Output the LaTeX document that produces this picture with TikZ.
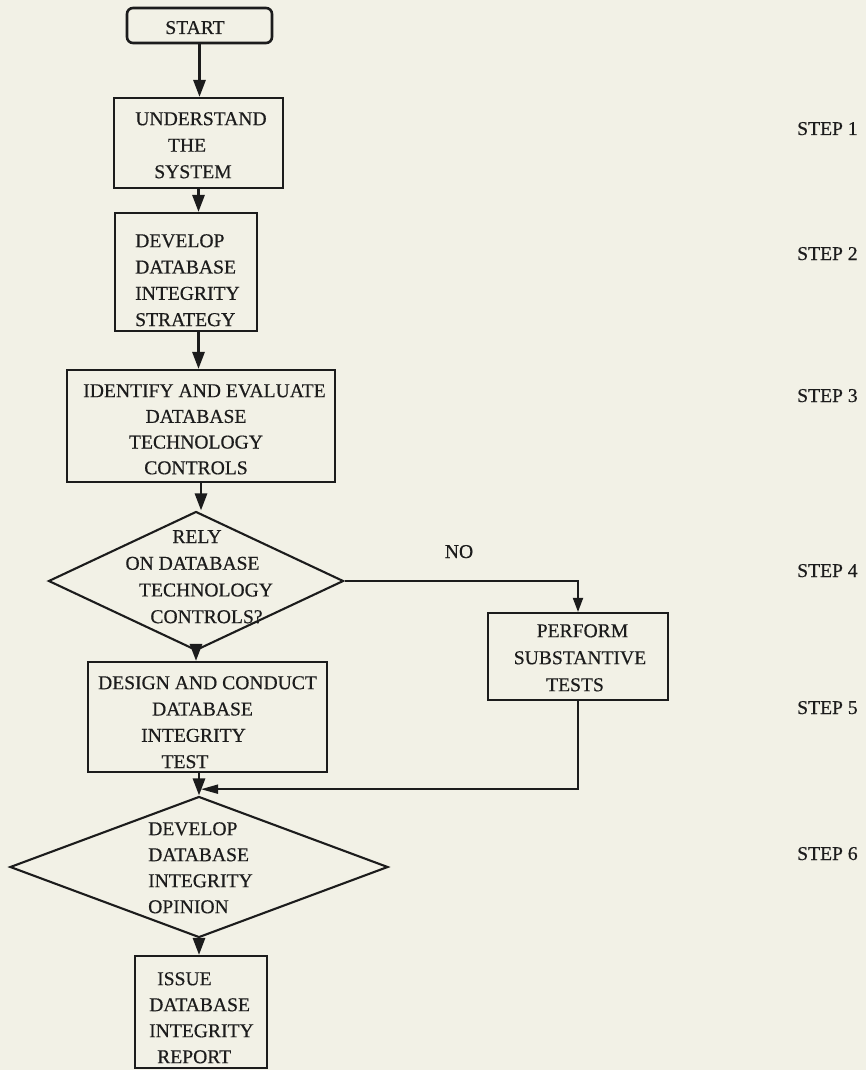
\documentclass[tikz,border=0pt]{standalone}
\usepackage{fontspec}
\setmainfont{Liberation Serif}[FakeBold=0.5]
\usetikzlibrary{arrows.meta,shapes.geometric,calc}
\definecolor{paper}{RGB}{242,241,230}
\definecolor{ink}{RGB}{28,28,28}
\begin{document}
\begin{tikzpicture}[x=1pt,y=-1pt,
  box/.style={draw=ink, line width=2.1pt, inner sep=0pt, rectangle},
  decision/.style={draw=ink, line width=2.1pt, inner sep=0pt, diamond},
  txt/.style={inner sep=0pt, text=ink, font=\fontsize{19.6}{26.3}\selectfont},
  flow/.style={draw=ink, line width=2.8pt, -{Triangle[length=17pt,width=12pt]}},
  side/.style={draw=ink, line width=1.8pt},
]
\fill[paper] (0,0) rectangle (866,1070);
\useasboundingbox (0,0) rectangle (866,1070);

% shapes
\node[box, rounded corners=6pt, line width=2.6pt, minimum width=145pt, minimum height=35pt] (start) at (199.5,25.5) {};
\node[box, minimum width=169pt, minimum height=90pt] (und) at (198.5,143) {};
\node[box, minimum width=142pt, minimum height=118pt] (dev) at (186,272) {};
\node[box, minimum width=268pt, minimum height=112pt] (ident) at (201,426) {};
\node[decision, minimum width=295pt, minimum height=139pt] (d1) at (196,581) {};
\node[box, minimum width=180pt, minimum height=87pt] (perf) at (578,656.5) {};
\node[box, minimum width=239pt, minimum height=110pt] (design) at (207.5,717) {};
\node[decision, minimum width=378pt, minimum height=141pt] (d2) at (199,867) {};
\node[box, minimum width=132pt, minimum height=112pt] (issue) at (201,1012) {};

% texts
\node[txt, anchor=base] (tstart) at (195,34) {START};
\node[txt, align=center, anchor=north, font=\fontsize{19.6}{26.5}\selectfont] (tund) at (198,112)
  {\hspace*{6pt}UNDERSTAND\\\hspace*{-22pt}THE\\\hspace*{-10pt}SYSTEM};
\node[txt, align=left, anchor=north west] (tdev) at (135,234)
  {DEVELOP\\DATABASE\\INTEGRITY\\STRATEGY};
\node[txt, align=center, anchor=north, font=\fontsize{19.6}{25.7}\selectfont] (tident) at (196,384)
  {\hspace*{17pt}IDENTIFY AND EVALUATE\\DATABASE\\TECHNOLOGY\\CONTROLS};
\node[txt, align=center, anchor=north, font=\fontsize{19.6}{26.7}\selectfont] (td1) at (200,530)
  {\hspace*{-6pt}RELY\\\hspace*{-15pt}ON DATABASE\\\hspace*{12pt}TECHNOLOGY\\\hspace*{13pt}CONTROLS?};
\node[txt, anchor=base] (tno) at (459,558) {NO};
\node[txt, align=center, anchor=north, font=\fontsize{19.6}{27}\selectfont] (tperf) at (580,624)
  {\hspace*{5pt}PERFORM\\SUBSTANTIVE\\\hspace*{-10pt}TESTS};
\node[txt, align=center, anchor=north] (tdesign) at (200,676)
  {\hspace*{15pt}DESIGN AND CONDUCT\\\hspace*{5pt}DATABASE\\\hspace*{-13pt}INTEGRITY\\\hspace*{-30pt}TEST};
\node[txt, align=left, anchor=north west, font=\fontsize{19.6}{26}\selectfont] (td2) at (148,822)
  {DEVELOP\\DATABASE\\INTEGRITY\\OPINION};
\node[txt, align=left, anchor=north west, font=\fontsize{19.6}{26}\selectfont] (tissue) at (149,972)
  {\hspace*{8pt}ISSUE\\DATABASE\\INTEGRITY\\\hspace*{8pt}REPORT};

% step labels
\node[txt, anchor=base west] (s1) at (797,135) {STEP 1};
\node[txt, anchor=base west] (s2) at (797,260) {STEP 2};
\node[txt, anchor=base west] (s3) at (797,402) {STEP 3};
\node[txt, anchor=base west] (s4) at (797,577) {STEP 4};
\node[txt, anchor=base west] (s5) at (797,714) {STEP 5};
\node[txt, anchor=base west] (s6) at (797,860) {STEP 6};

% connectors
\draw[flow] (start.south) -- (start.south |- und.north);
\draw[flow] (und.south) -- (und.south |- dev.north);
\draw[flow] (dev.south -| und.south) -- (und.south |- ident.north);
\draw[flow] (ident.south) -- (ident.south |- d1.north);
\draw[flow] (d1.south) -- (d1.south |- design.north);
\draw[flow] (design.south -| d2.north) -- (d2.north);
\draw[side, -{Triangle[length=14pt,width=10pt]}] (d1.east) -| (perf.north);
\coordinate (merge) at ($(design.south -| d2.north)!0.72!(d2.north)$);
\draw[side, -{Triangle[length=17pt,width=9pt]}] (perf.south) |- ([xshift=2pt]merge);
\draw[flow] (d2.south) -- (d2.south |- issue.north);
\end{tikzpicture}
\end{document}
